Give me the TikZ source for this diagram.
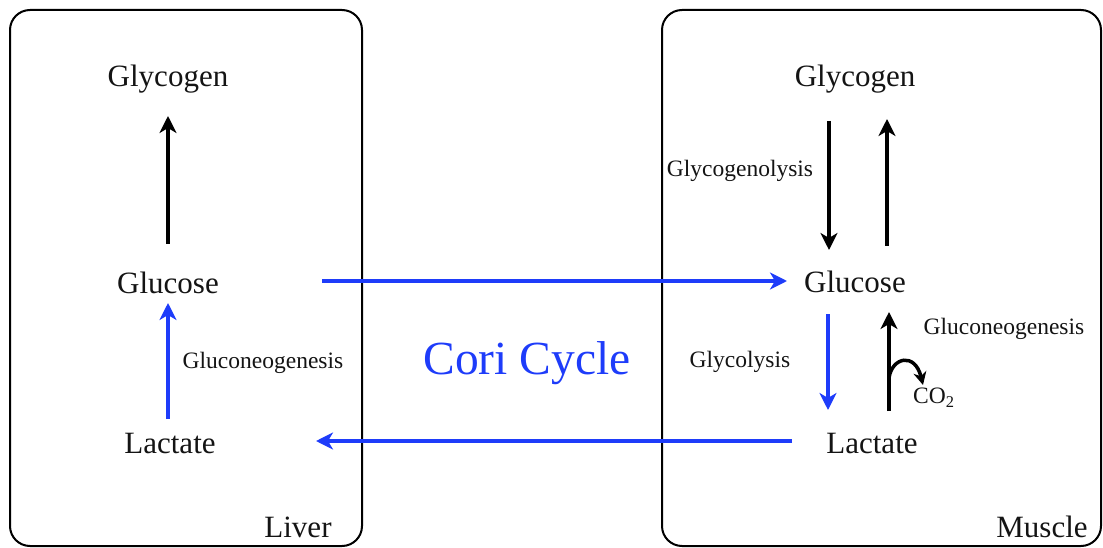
\documentclass[tikz,border=0pt]{standalone}
\usepackage{fontspec}
\setmainfont{Liberation Serif}
\usetikzlibrary{arrows.meta}
\definecolor{cblue}{RGB}{30,60,250}
\definecolor{ctext}{RGB}{20,20,20}
\tikzset{
  panel/.style={draw=black,line width=2pt,rounded corners=20pt},
  big/.style={font=\fontsize{31}{35}\selectfont,text=ctext,inner sep=0pt},
  lbl/.style={font=\fontsize{23.5}{27}\selectfont,text=ctext,inner sep=0pt},
  blk/.style={line width=3.5pt,draw=black,-{Stealth[length=17pt,width=17pt,inset=5pt]}},
  blu/.style={line width=3.5pt,draw=cblue,-{Stealth[length=17pt,width=17pt,inset=5pt]}},
}
\begin{document}
\begin{tikzpicture}[x=1pt,y=-1pt]
\useasboundingbox (0,0) rectangle (1103,548);
\draw[panel] (10,10) rectangle (362,546);
\draw[panel] (662,10) rectangle (1101,546);
% left
\node[big] (lgly) at (168,79) {Glycogen};
\node[big] (lglu) at (168,283) {Glucose};
\node[big] (llac) at (170,443) {Lactate};
\node[lbl] (lgng) at (263,363) {Gluconeogenesis};
\node[big] (liver) at (298,527) {Liver};
% right
\node[big] (rgly) at (855,79) {Glycogen};
\node[big] (rglu) at (855,282) {Glucose};
\node[big] (rlac) at (872,443) {Lactate};
\node[big] (muscle) at (1042,527) {Muscle};
\node[lbl] (glyl) at (740,171) {Glycogenolysis};
\node[lbl] (glyc) at (740,362) {Glycolysis};
\node[lbl] (rgng) at (1004,329) {Gluconeogenesis};
\node[lbl,anchor=west] (co2) at (913,398) {CO\textsubscript{2}};
\node[font=\fontsize{47.5}{52}\selectfont,text=cblue,inner sep=0pt] (cori) at (527,363) {Cori Cycle};
% coordinates
\coordinate (a1s) at (168,244); \coordinate (a1e) at (168,116);
\coordinate (a2s) at (168,419); \coordinate (a2e) at (168,303);
\coordinate (h1s) at (322,281); \coordinate (h1e) at (787,281);
\coordinate (h2s) at (792,441); \coordinate (h2e) at (316,441);
\coordinate (d1s) at (829,121); \coordinate (d1e) at (829,250);
\coordinate (u1s) at (887,246); \coordinate (u1e) at (887,119);
\coordinate (d2s) at (828,314); \coordinate (d2e) at (828,410);
\coordinate (u2s) at (889,411); \coordinate (u2e) at (889,312);
\coordinate (cs) at (889,378); \coordinate (ce) at (923,385);
% arrows
\draw[blk] (a1s) -- (a1e);
\draw[blu] (a2s) -- (a2e);
\draw[blu] (h1s) -- (h1e);
\draw[blu] (h2s) -- (h2e);
\draw[blk] (d1s) -- (d1e);
\draw[blk] (u1s) -- (u1e);
\draw[blu] (d2s) -- (d2e);
\draw[blk] (u2s) -- (u2e);
\draw[blk,line width=3.5pt,-{Stealth[length=13pt,width=13pt,inset=4pt]}] (cs) .. controls (892,357) and (915,352) .. (ce);
\end{tikzpicture}
\end{document}
